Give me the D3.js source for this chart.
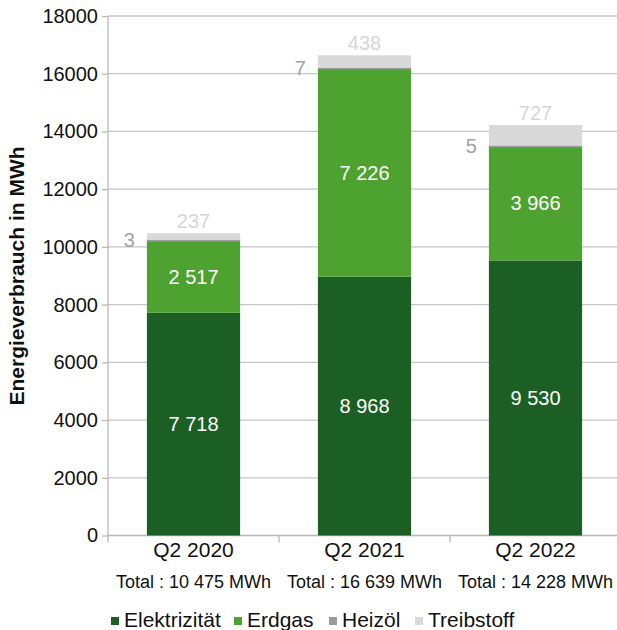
<!DOCTYPE html>
<html>
<head>
<meta charset="utf-8">
<script src="https://cdn.jsdelivr.net/npm/d3@7"></script>
<style>
  body { margin: 0; background: #fff; }
  svg { font-family: "Liberation Sans", Arial, sans-serif; }
</style>
</head>
<body>
<div id="chart"></div>
<script>
// Data
const quarters = ["Q2 2020", "Q2 2021", "Q2 2022"];
const totals = ["Total : 10 475 MWh", "Total : 16 639 MWh", "Total : 14 228 MWh"];
const seriesNames = ["Elektrizität", "Erdgas", "Heizöl", "Treibstoff"];
const elektrizitaet = [7718, 8968, 9530];
const erdgas = [2517, 7226, 3966];
const heizoel = [3, 7, 5];
const treibstoff = [237, 438, 727];
const yTicks = [0, 2000, 4000, 6000, 8000, 10000, 12000, 14000, 16000, 18000];

const width = 617;
const height = 630;
const colors = ["#1b5f24", "#4ea22f", "#9b9b9b", "#d9d9d9"];
const fontFam = "'Liberation Sans', Arial, sans-serif";

const rows = quarters.map((q, i) => ({
  quarter: q,
  "Elektrizität": elektrizitaet[i],
  "Erdgas": erdgas[i],
  "Heizöl": heizoel[i],
  "Treibstoff": treibstoff[i]
}));

const svg = d3.select("#chart")
  .append("svg")
  .attr("width", width)
  .attr("height", height);

const x = d3.scaleBand()
  .domain(quarters)
  .range([108, 621])
  .paddingInner(0.455)
  .paddingOuter(0.2275);

const y = d3.scaleLinear()
  .domain([0, 18000])
  .range([535.5, 16]);

const color = d3.scaleOrdinal().domain(seriesNames).range(colors);

// Gridlines
svg.append("g")
  .selectAll("line")
  .data(yTicks.slice(1))
  .enter()
  .append("line")
  .attr("x1", 108)
  .attr("x2", width)
  .attr("y1", d => y(d))
  .attr("y2", d => y(d))
  .attr("stroke", "#c6c6c6")
  .attr("stroke-width", 1.3);

// Y axis
const yAxis = svg.append("g")
  .attr("transform", "translate(108,0)")
  .call(d3.axisLeft(y).tickValues(yTicks).tickFormat(d3.format("d")).tickSize(6).tickPadding(4));
yAxis.select(".domain").attr("stroke", "#b8b8b8").attr("stroke-width", 1.3)
  .attr("d", `M0,${y(18000)}V${y(0) + 7}`);
yAxis.selectAll(".tick line").attr("stroke", "#b8b8b8").attr("stroke-width", 1.3);
yAxis.selectAll("text").attr("font-size", "20px").attr("fill", "#111").attr("font-family", fontFam);

// X axis
const xAxis = svg.append("g")
  .attr("transform", `translate(0,${y(0)})`)
  .call(d3.axisBottom(x).tickSize(0).tickPadding(7));
xAxis.select(".domain").attr("stroke", "#b8b8b8").attr("stroke-width", 1.3)
  .attr("d", `M108,0H${width}`);
xAxis.selectAll("text").attr("font-size", "21px").attr("fill", "#111").attr("font-family", fontFam);

// category separator ticks
const step = x.step();
svg.append("g")
  .selectAll("line")
  .data(quarters)
  .enter()
  .append("line")
  .attr("x1", d => x(d) - x.paddingOuter() * step + step)
  .attr("x2", d => x(d) - x.paddingOuter() * step + step)
  .attr("y1", y(0))
  .attr("y2", y(0) + 7)
  .attr("stroke", "#b8b8b8")
  .attr("stroke-width", 1.3);

// Stacked bars
const stacked = d3.stack().keys(seriesNames)(rows);

const layers = svg.append("g")
  .selectAll("g")
  .data(stacked)
  .enter()
  .append("g")
  .attr("fill", d => color(d.key));

layers.selectAll("rect")
  .data(d => d.map(v => ({ key: d.key, v })))
  .enter()
  .append("rect")
  .attr("x", d => x(d.v.data.quarter))
  .attr("width", x.bandwidth())
  .attr("y", d => d.key === "Heizöl" ? y(d.v[1]) - 1.5 : y(d.v[1]))
  .attr("height", d => d.key === "Heizöl" ? Math.max(3, y(d.v[0]) - y(d.v[1])) : y(d.v[0]) - y(d.v[1]));

// Value labels inside bars
stacked.slice(0, 2).forEach(layer => {
  svg.append("g")
    .selectAll("text")
    .data(layer)
    .enter()
    .append("text")
    .attr("x", d => x(d.data.quarter) + x.bandwidth() / 2)
    .attr("y", d => (y(d[0]) + y(d[1])) / 2)
    .attr("dy", "0.36em")
    .attr("text-anchor", "middle")
    .attr("font-size", "20px")
    .attr("fill", "#fff")
    .text(d => d3.format(",")(d[1] - d[0]).replace(",", " "));
});

// Heizöl labels (left of bar)
svg.append("g")
  .selectAll("text")
  .data(stacked[2])
  .enter()
  .append("text")
  .attr("x", d => x(d.data.quarter) - 12)
  .attr("y", d => y(d[1]))
  .attr("dy", "0.36em")
  .attr("text-anchor", "end")
  .attr("font-size", "20px")
  .attr("fill", "#a3a3a3")
  .text(d => d[1] - d[0]);

// Treibstoff labels (above bar)
svg.append("g")
  .selectAll("text")
  .data(stacked[3])
  .enter()
  .append("text")
  .attr("x", d => x(d.data.quarter) + x.bandwidth() / 2)
  .attr("y", d => y(d[1]) - 5)
  .attr("text-anchor", "middle")
  .attr("font-size", "20px")
  .attr("fill", "#d6d6d6")
  .text(d => d[1] - d[0]);

// Totals under categories
svg.append("g")
  .selectAll("text")
  .data(quarters)
  .enter()
  .append("text")
  .attr("x", d => x(d) + x.bandwidth() / 2)
  .attr("y", 588)
  .attr("text-anchor", "middle")
  .attr("font-size", "18px")
  .attr("fill", "#111")
  .text((d, i) => totals[i]);

// Y-axis label
svg.append("text")
  .attr("transform", "rotate(-90)")
  .attr("x", -276)
  .attr("y", 24)
  .attr("text-anchor", "middle")
  .attr("font-size", "21px")
  .attr("font-weight", "bold")
  .attr("fill", "#111")
  .text("Energieverbrauch in MWh");

// Legend
const legendX = [111, 234, 329, 415];
const legend = svg.append("g")
  .selectAll("g")
  .data(seriesNames)
  .enter()
  .append("g")
  .attr("transform", (d, i) => `translate(${legendX[i]},627)`);

legend.append("rect")
  .attr("x", 0)
  .attr("y", -10)
  .attr("width", 8)
  .attr("height", 8)
  .attr("fill", d => color(d));

legend.append("text")
  .attr("x", 13)
  .attr("y", 0)
  .attr("font-size", "21px")
  .attr("fill", "#111")
  .text(d => d);
</script>
</body>
</html>
